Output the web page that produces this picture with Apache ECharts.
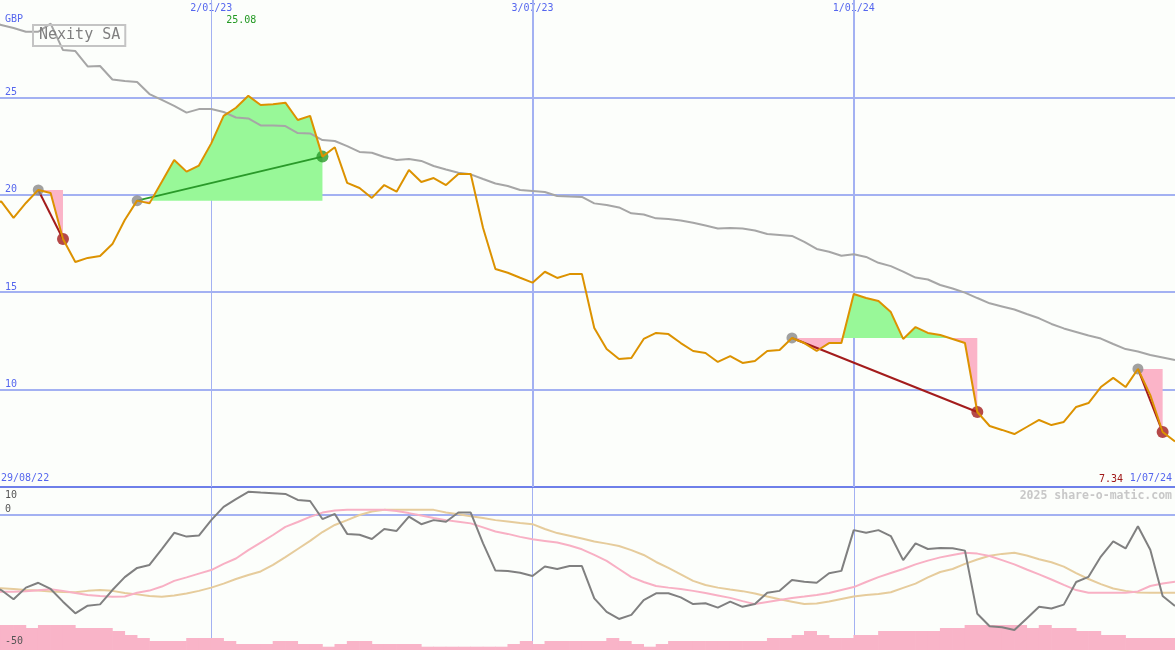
<!DOCTYPE html>
<html><head><meta charset="utf-8">
<script src="https://cdn.jsdelivr.net/npm/echarts@6/dist/echarts.min.js"></script>
<style>html,body{margin:0;padding:0;background:#fcfefb}#c{width:1175px;height:650px}</style>
</head><body><div id="c"></div>
<script>
// ---- data (weekly, index 0 = 29/08/22 ... index 96 = 1/07/24) ----
const stockName = 'Nexity SA';
const currency = 'GBP';
const firstLabel = '29/08/22';
const lastLabel = '1/07/24';
const watermark = '2025 share-o-matic.com';
const tickWeeks = [18, 44, 70];
const tickLabels = ['2/01/23', '3/07/23', '1/01/24'];
const priceTickLabels = [10, 15, 20, 25];
const oscTickLabels = [10, 0, -50];

const price = [
  19.40, 19.66, 18.82, 19.58, 20.25, 20.09, 17.73, 16.55, 16.76, 16.86,
  17.47, 18.71, 19.70, 19.56, 20.67, 21.79, 21.19, 21.50, 22.64, 24.05,
  24.47, 25.08, 24.61, 24.65, 24.73, 23.84, 24.05, 21.96, 22.44, 20.61,
  20.35, 19.84, 20.50, 20.16, 21.27, 20.66, 20.86, 20.50, 21.07, 21.07,
  18.30, 16.19, 16.00, 15.74, 15.49, 16.05, 15.73, 15.93, 15.93, 13.16,
  12.08, 11.57, 11.62, 12.60, 12.91, 12.85, 12.39, 11.98, 11.88, 11.42,
  11.72, 11.37, 11.47, 11.98, 12.03, 12.65, 12.39, 11.98, 12.39, 12.39,
  14.91, 14.70, 14.55, 13.98, 12.60, 13.21, 12.91, 12.80, 12.60, 12.39,
  8.85, 8.13, 7.93, 7.72, 8.08, 8.44, 8.18, 8.34, 9.11, 9.31,
  10.13, 10.60, 10.13, 11.06, 9.72, 7.82, 7.34
];
const average = [
  28.87, 28.72, 28.56, 28.37, 28.37, 28.79, 27.43, 27.38, 26.59, 26.61,
  25.92, 25.84, 25.79, 25.17, 24.87, 24.56, 24.22, 24.40, 24.40, 24.25,
  23.97, 23.92, 23.56, 23.56, 23.53, 23.17, 23.15, 22.81, 22.76, 22.50,
  22.20, 22.16, 21.94, 21.79, 21.84, 21.74, 21.48, 21.30, 21.13, 21.05,
  20.81, 20.58, 20.45, 20.25, 20.20, 20.14, 19.94, 19.91, 19.89, 19.56,
  19.48, 19.35, 19.05, 18.99, 18.79, 18.76, 18.68, 18.57, 18.42, 18.27,
  18.30, 18.27, 18.17, 17.99, 17.94, 17.89, 17.58, 17.22, 17.08, 16.87,
  16.95, 16.81, 16.51, 16.34, 16.06, 15.75, 15.65, 15.37, 15.19, 14.98,
  14.70, 14.43, 14.27, 14.11, 13.88, 13.66, 13.37, 13.14, 12.96, 12.78,
  12.62, 12.34, 12.08, 11.96, 11.78, 11.65, 11.52
];
const oscMain = [
  -26.0, -27.8, -31.2, -26.9, -25.1, -27.4, -32.1, -36.4, -33.6, -33.1,
  -27.8, -23.0, -19.6, -18.5, -12.6, -6.6, -8.0, -7.6, -1.9, 3.0,
  5.9, 8.6, 8.3, 8.1, 7.8, 5.6, 5.2, -1.5, 0.4, -7.0,
  -7.3, -8.9, -5.2, -5.9, -0.6, -3.4, -1.9, -2.5, 0.9, 0.9,
  -10.5, -20.6, -20.7, -21.4, -22.6, -19.1, -20.0, -18.9, -18.9, -30.9,
  -35.9, -38.5, -37.0, -31.5, -29.0, -29.0, -30.5, -33.0, -32.7, -34.3,
  -32.1, -34.0, -33.0, -28.8, -28.1, -24.1, -24.7, -25.1, -21.6, -20.7,
  -5.6, -6.6, -5.6, -7.8, -16.7, -10.5, -12.6, -12.2, -12.3, -13.2,
  -36.6, -41.2, -41.6, -42.6, -38.3, -34.0, -34.6, -33.2, -24.8, -22.9,
  -15.4, -9.8, -12.4, -4.2, -12.9, -30.0, -33.7
];
const oscFast = [
  -28.4, -28.4, -28.4, -28.2, -27.9, -27.5, -28.1, -28.9, -29.6, -30.0,
  -30.3, -30.2, -28.8, -28.0, -26.5, -24.4, -23.1, -21.7, -20.4, -18.1,
  -16.1, -13.0, -10.2, -7.4, -4.4, -2.6, -0.7, 0.9, 1.7, 1.9,
  1.9, 1.9, 1.9, 1.5, 0.7, -0.2, -1.1, -1.9, -2.5, -3.1,
  -4.6, -6.1, -7.0, -8.1, -9.0, -9.6, -10.2, -11.3, -12.7, -14.8,
  -17.0, -20.0, -23.0, -24.8, -26.3, -26.9, -27.4, -28.1, -28.9, -29.8,
  -30.7, -31.9, -33.0, -32.2, -31.5, -30.7, -30.2, -29.6, -28.9, -27.8,
  -26.7, -24.8, -23.0, -21.5, -20.0, -18.3, -16.9, -15.7, -14.8, -14.0,
  -14.3, -15.2, -16.7, -18.3, -20.2, -22.0, -23.9, -25.9, -27.8, -28.8,
  -28.8, -28.8, -28.8, -28.3, -26.3, -25.4, -24.7
];
const oscSlow = [
  -27.0, -27.1, -27.4, -27.8, -28.0, -28.3, -28.5, -28.6, -28.1, -27.8,
  -28.1, -28.9, -29.4, -30.0, -30.3, -29.8, -29.1, -28.1, -26.9, -25.4,
  -23.7, -22.2, -20.9, -18.5, -15.6, -12.6, -9.6, -6.3, -3.7, -1.9,
  0.0, 1.3, 1.9, 1.9, 1.9, 1.9, 1.9, 0.9, 0.3, -0.5,
  -1.1, -1.9, -2.4, -3.0, -3.4, -5.2, -6.7, -7.7, -8.7, -9.8,
  -10.6, -11.5, -13.0, -14.8, -17.4, -19.6, -22.0, -24.4, -25.9, -26.9,
  -27.6, -28.2, -29.1, -30.2, -31.2, -32.1, -33.0, -32.8, -32.0, -31.1,
  -30.2, -29.6, -29.3, -28.6, -27.0, -25.4, -23.1, -21.1, -20.0, -18.1,
  -16.5, -15.1, -14.4, -14.0, -15.0, -16.4, -17.5, -19.1, -21.5, -23.7,
  -25.6, -27.2, -28.1, -28.7, -28.8, -28.8, -28.8
];
const volume = [
  25, 25, 25, 22, 25, 25, 25, 22, 22, 22,
  19, 15, 12, 9, 9, 9, 12, 12, 12, 9,
  6, 6, 6, 9, 9, 6, 6, 3.3, 6, 9,
  9, 6, 6, 6, 6, 3.3, 3.3, 3.3, 3.3, 3.3,
  3.3, 3.3, 6, 9, 6, 9, 9, 9, 9, 9,
  12, 9, 6, 3.3, 6, 9, 9, 9, 9, 9,
  9, 9, 9, 12, 12, 15, 19, 15, 12, 12,
  15, 15, 19, 19, 19, 19, 19, 22, 22, 25,
  25, 25, 25, 25, 22, 25, 22, 22, 19, 19,
  15, 15, 12, 12, 12, 12, 12
];
const trades = [
  { entry: 4, exit: 6 },
  { entry: 12, exit: 27 },
  { entry: 65, exit: 80 },
  { entry: 93, exit: 95 }
];

// ---- styles ----
const MONO = 'DejaVu Sans Mono';
const BLUE = '#5566ee';
const GRID = '#a3b1f2';
const SEP = '#6e7fe9';
const ORANGE = '#dc9200';
const GREEN_FILL = '#98f898';
const PINK_FILL = '#fbb4c8';
const LOSS = '#a31c1c';
const WIN = '#2a9a2a';

const ORIGIN = tickWeeks[0];
const xv = i => i - ORIGIN;
const pts = (arr, a, b) => { const o = []; for (let i = a; i <= b; i++) o.push([xv(i), arr[i]]); return o; };
const last = price.length - 1;

const series = [];
const visualMaps = [];

trades.forEach((t, ti) => {
  const entryVal = price[t.entry];
  const s = {
    type: 'line', xAxisIndex: 0, yAxisIndex: 0, silent: true, z: 2,
    data: pts(price, t.entry, t.exit), symbol: 'none',
    lineStyle: { width: 0, opacity: 0 },
    areaStyle: { opacity: 1, origin: entryVal }
  };
  if (ti === 0) {
    s.markLine = {
      z: 1, silent: true, symbol: ['none', 'none'], label: { show: false },
      data: tickWeeks.map((w, i) => ({ xAxis: xv(w), lineStyle: { color: GRID, width: i === 0 ? 1 : 2, type: 'solid' } }))
    };
  }
  visualMaps.push({
    type: 'piecewise', show: false, seriesIndex: series.length, dimension: 1,
    pieces: [{ gt: entryVal, lte: 100, color: GREEN_FILL }, { gte: -100, lte: entryVal, color: PINK_FILL }]
  });
  series.push(s);
});

series.push({
  type: 'line', xAxisIndex: 0, yAxisIndex: 0, silent: true, z: 3, symbol: 'none',
  data: pts(average, 0, last), lineStyle: { color: '#a6a6a6', width: 2 }
});

trades.forEach(t => {
  const win = price[t.exit] > price[t.entry];
  series.push({
    type: 'line', xAxisIndex: 0, yAxisIndex: 0, silent: true, z: 4, symbol: 'none',
    data: [[xv(t.entry), price[t.entry]], [xv(t.exit), price[t.exit]]],
    lineStyle: { color: win ? WIN : LOSS, width: 2 }
  });
});

series.push({
  type: 'scatter', xAxisIndex: 0, yAxisIndex: 0, silent: true, z: 5, symbolSize: 11,
  itemStyle: { color: '#8a8a8a' },
  data: trades.map(t => [xv(t.entry), price[t.entry]])
});
series.push({
  type: 'scatter', xAxisIndex: 0, yAxisIndex: 0, silent: true, z: 5, symbolSize: 12,
  data: trades.map(t => ({ value: [xv(t.exit), price[t.exit]], itemStyle: { color: price[t.exit] > price[t.entry] ? WIN : LOSS } }))
});

series.push({
  name: stockName, type: 'line', xAxisIndex: 0, yAxisIndex: 0, silent: true, z: 6, symbol: 'none',
  data: pts(price, 0, last), lineStyle: { color: ORANGE, width: 2 }, itemStyle: { color: ORANGE },
  markPoint: {
    z: 7, symbol: 'circle', symbolSize: 1, itemStyle: { color: 'rgba(0,0,0,0)' }, silent: true,
    label: { show: true, position: 'inside', fontFamily: MONO, fontSize: 10 },
    data: [
      { type: 'max', label: { offset: [-7, -75], color: '#229922', formatter: p => Number(p.value).toFixed(2) } },
      { coord: [xv(last), price[last]], value: price[last], label: { offset: [-64, 38], color: '#a01818', formatter: p => Number(p.value).toFixed(2) } }
    ]
  }
});

// lower panel
series.push({
  type: 'bar', xAxisIndex: 1, yAxisIndex: 2, silent: true, z: 2, barWidth: 13,
  itemStyle: { color: '#f9b4c8' },
  data: volume.map((v, i) => [xv(i) + 0.5, v])
});
series.push({
  type: 'line', xAxisIndex: 1, yAxisIndex: 1, silent: true, z: 3, symbol: 'none',
  data: pts(oscSlow, 0, last), lineStyle: { color: '#e6cc9c', width: 2 }
});
series.push({
  type: 'line', xAxisIndex: 1, yAxisIndex: 1, silent: true, z: 3, symbol: 'none',
  data: pts(oscFast, 0, last), lineStyle: { color: '#f8b0c4', width: 2 }
});
series.push({
  type: 'line', xAxisIndex: 1, yAxisIndex: 1, silent: true, z: 4, symbol: 'none',
  data: pts(oscMain, 0, last), lineStyle: { color: '#808080', width: 2 }
});

const txt = (c, s, w) => ({ color: c, fontSize: s, fontWeight: w || 'normal', fontFamily: MONO });

const oscLabel = {
  inside: true, margin: 5, color: '#555555', fontSize: 10, fontFamily: MONO, verticalAlign: 'middle',
  showMinLabel: true, showMaxLabel: true,
  formatter: v => {
    if (!oscTickLabels.includes(v)) return '';
    if (v === oscTickLabels[0]) return '{t|' + v + '}';
    if (v === oscTickLabels[2]) return '{m|' + v + '}';
    return '{b|' + v + '}';
  },
  rich: {
    t: { padding: [14, 0, 0, 0], lineHeight: 12, fontSize: 10, fontFamily: MONO, color: '#555555' },
    b: { padding: [0, 0, 12, 0], lineHeight: 12, fontSize: 10, fontFamily: MONO, color: '#555555' },
    m: { padding: [0, 0, 18, 0], lineHeight: 12, fontSize: 10, fontFamily: MONO, color: '#555555' }
  }
};

const option = {
  animation: false,
  backgroundColor: '#fcfefb',
  textStyle: { fontFamily: MONO },
  title: [
    { text: currency, left: 5, top: 14, padding: 0, textStyle: txt(BLUE, 10) },
    { text: firstLabel, left: 1, top: 473, padding: 0, textStyle: txt(BLUE, 10) },
    { text: lastLabel, right: 3, top: 473, padding: 0, textStyle: txt(BLUE, 10) },
    { text: watermark, right: 3, top: 490, padding: 0, textStyle: txt('#c8c8c8', 11.5, 'bold') }
  ],
  legend: {
    data: [stockName], left: 33, top: 25, itemWidth: 0, itemHeight: 0, itemGap: 0,
    padding: [3, 5, 3, 0], borderColor: '#c4c4c4', borderWidth: 2, selectedMode: false,
    textStyle: txt('#808080', 15)
  },
  visualMap: visualMaps,
  grid: [
    { left: -110, right: 0, top: 0, height: 487, containLabel: false, outerBoundsMode: 'none' },
    { left: -110, right: 0, top: 488, height: 162, containLabel: false, outerBoundsMode: 'none' }
  ],
  xAxis: [
    { type: 'value', gridIndex: 0, min: -26, max: 78, interval: 26, position: 'bottom',
      axisLine: { show: true, onZero: false, lineStyle: { color: SEP, width: 2 } },
      axisTick: { show: false }, axisLabel: { show: false }, splitLine: { show: false } },
    { type: 'value', gridIndex: 1, min: -26, max: 78, interval: 26,
      axisLine: { show: false }, axisTick: { show: false }, axisLabel: { show: false },
      splitLine: { show: true, showMinLine: false, showMaxLine: false, lineStyle: { color: GRID, width: 1 } } },
    { type: 'value', gridIndex: 0, min: -26, max: 78, interval: 26, position: 'top',
      axisLine: { show: false }, axisTick: { show: false }, splitLine: { show: false },
      axisLabel: { show: true, inside: true, margin: 3, color: BLUE, fontSize: 10, fontFamily: MONO,
        formatter: v => { const i = tickWeeks.indexOf(v + ORIGIN); return i >= 0 ? tickLabels[i] : ''; } } }
  ],
  yAxis: [
    { type: 'value', gridIndex: 0, min: 5, max: 30, interval: 5, offset: -110,
      axisLine: { show: false }, axisTick: { show: false },
      splitLine: { show: true, showMinLine: false, showMaxLine: false, lineStyle: { color: GRID, width: 2 } },
      axisLabel: { inside: true, margin: 5, color: BLUE, fontSize: 10, fontFamily: MONO, verticalAlign: 'bottom',
        formatter: v => priceTickLabels.includes(v) ? String(v) : '' } },
    { type: 'value', gridIndex: 1, min: -50, max: 10, interval: 50, offset: -110,
      axisLine: { show: false }, axisTick: { show: false }, axisLabel: { show: false },
      splitLine: { show: true, showMinLine: false, showMaxLine: false, lineStyle: { color: GRID, width: 2 } } },
    { type: 'value', gridIndex: 1, min: 0, max: 162, show: false },
    { type: 'value', gridIndex: 1, min: -50, max: 10, interval: 50, offset: -110, position: 'left', z: 10,
      axisLine: { show: false }, axisTick: { show: false }, splitLine: { show: false },
      axisLabel: oscLabel }
  ],
  series: series
};

const chart = echarts.init(document.getElementById('c'));
chart.setOption(option);
</script>
</body></html>
